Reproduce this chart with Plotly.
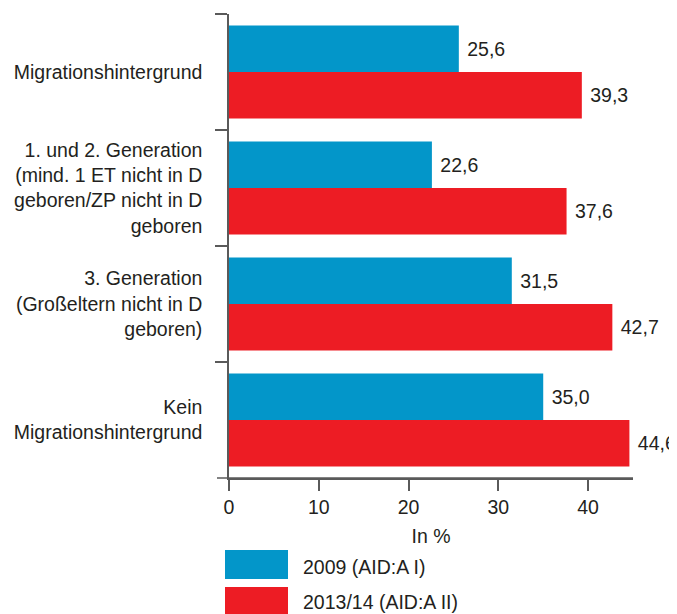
import plotly.graph_objects as go

categories = [
    "Migrationshintergrund",
    "1. und 2. Generation<br>(mind. 1 ET nicht in D<br>geboren/ZP nicht in D<br>geboren",
    "3. Generation<br>(Großeltern nicht in D<br>geboren)",
    "Kein<br>Migrationshintergrund",
]
series_names = ["2009 (AID:A I)", "2013/14 (AID:A II)"]
values_2009 = [25.6, 22.6, 31.5, 35.0]
values_2013 = [39.3, 37.6, 42.7, 44.6]
x_ticks = [0, 10, 20, 30, 40]
x_title = "In %"

BLUE = "#0396C9"
RED = "#ED1C24"
TEXT = "#231F20"
AXIS = "#5A5A5A"
FONT = "Liberation Sans, Arial, sans-serif"
FS = 19.5

OFF = 8  # page body margin
W, H = 677 - OFF, 614 - OFF
ML, MR, MT, MB = 229 - OFF, 44, 14 - OFF, 136
pw = W - ML - MR
ph = H - MT - MB

fig = go.Figure()
for name, vals, col in [(series_names[0], values_2009, BLUE), (series_names[1], values_2013, RED)]:
    fig.add_trace(go.Bar(
        y=categories, x=vals, orientation="h", name=name,
        marker=dict(color=col, line=dict(width=0)),
        texttemplate=" %{x:.1f}", textposition="outside",
        textfont=dict(size=FS, color=TEXT, family=FONT),
        cliponaxis=False, showlegend=False,
    ))

# x-axis line extension to the left of zero
fig.add_shape(type="line", xref="paper", yref="paper", x0=-12 / pw, x1=1, y0=0, y1=0,
              line=dict(color=AXIS, width=1.5))

# manual legend (positions given in page pixels)
def px2paper_x(px):
    return (px - OFF - ML) / pw

def px2paper_y(py):
    return (H - MB - (py - OFF)) / ph

legend_rows = [(series_names[0], BLUE, 550, 579, 567), (series_names[1], RED, 587, 618, 602)]
for name, col, top, bot, cy in legend_rows:
    fig.add_shape(type="rect", xref="paper", yref="paper",
                  x0=px2paper_x(225), x1=px2paper_x(288),
                  y0=px2paper_y(bot), y1=px2paper_y(top),
                  fillcolor=col, line=dict(width=0))
    fig.add_annotation(xref="paper", yref="paper", x=px2paper_x(301), y=px2paper_y(cy),
                       text=name, showarrow=False, xanchor="left", yanchor="middle",
                       font=dict(size=FS, color=TEXT, family=FONT))

fig.update_layout(
    width=W, height=H,
    margin=dict(l=ML, r=MR, t=MT, b=MB),
    paper_bgcolor="white", plot_bgcolor="white",
    barmode="group", bargap=0.2, bargroupgap=0,
    separators=",.",
    font=dict(family=FONT, size=FS, color=TEXT),
    showlegend=False,
    xaxis=dict(
        range=[0, 45], tickvals=x_ticks, showgrid=False, zeroline=False,
        showline=True, linecolor=AXIS, linewidth=1.5,
        ticks="outside", ticklen=11, tickcolor=AXIS, tickwidth=1.5,
        tickfont=dict(size=FS, color=TEXT),
        title=dict(text=x_title, font=dict(size=FS, color=TEXT), standoff=12),
    ),
    yaxis=dict(
        autorange="reversed", showgrid=False, zeroline=False,
        showline=True, linecolor=AXIS, linewidth=1.5,
        ticks="outside", ticklen=12, tickcolor=AXIS, tickwidth=1.5,
        tickson="boundaries", ticklabelstandoff=21,
        tickfont=dict(size=FS, color=TEXT),
    ),
)

fig.write_html("out.html")
